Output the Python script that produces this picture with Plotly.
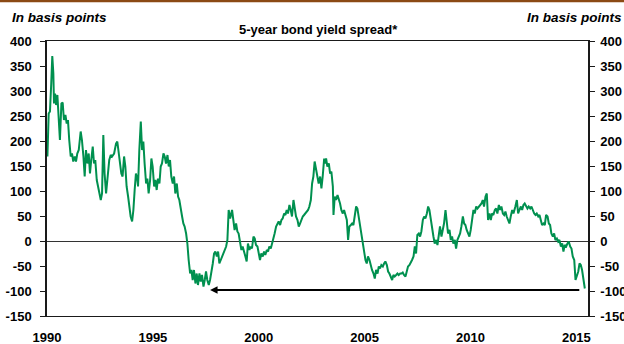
import plotly.graph_objects as go

# ---- Data: 5-year bond yield spread, basis points ----
years_a = [1990.00,1990.02,1990.08,1990.14,1990.20,1990.25,1990.30,1990.33,1990.38,1990.43,1990.49,1990.55,1990.61,1990.68,1990.74,1990.80,1990.87,1990.93,1990.99,
           1991.05,1991.12,1991.18,1991.24,1991.31,1991.37,1991.43,1991.50,1991.59,1991.65,1991.72,1991.78,1991.84,1991.91,1991.97,
           1992.03,1992.09,1992.16,1992.22,1992.28,1992.35,1992.41,1992.47,1992.54,1992.60,1992.66,1992.72,1992.79,1992.85,1992.94,
           1993.01,1993.07,1993.17,1993.26,1993.32,1993.39,1993.45,1993.51,1993.57,1993.64,1993.70,1993.76,1993.83,1993.89,1993.95,
           1994.02,1994.08,1994.14,1994.20,1994.27]
spread_a = [202,169,255,259,315,370,335,275,295,272,292,249,202,275,277,242,252,235,242,
            202,169,175,159,169,159,175,182,219,202,169,129,182,155,175,
            135,162,189,155,162,122,109,102,82,95,212,135,95,122,162,
            172,169,175,195,199,175,155,135,129,169,149,109,89,69,49,
            39,62,102,135,122]

years_b = [1994.30,1994.36,1994.43,1994.49,1994.55,1994.61,1994.68,1994.74,1994.80,1994.87,1994.93,1994.99,
           1995.06,1995.12,1995.18,1995.24,1995.31,1995.37,1995.43,1995.50,1995.56,1995.62,1995.69,1995.75,1995.81,1995.87,1995.94,
           1996.00,1996.06,1996.13,1996.19,1996.25,1996.31,1996.38,1996.44,1996.50,1996.57,1996.63,1996.69,1996.76,1996.82,1996.88,1996.94,
           1997.01,1997.07,1997.13,1997.20,1997.26,1997.32,1997.39,1997.45,1997.51,1997.57,1997.64,1997.70,1997.76,1997.83,1997.89,1997.95,
           1998.02,1998.08,1998.14,1998.20,1998.27,1998.33,1998.39,1998.46,1998.52,1998.58,1998.65,1998.71]
spread_b = [109,182,239,182,199,155,115,125,95,122,165,149,
            109,122,102,125,115,149,155,175,169,155,172,149,162,129,115,
            129,95,115,89,82,62,49,35,29,15,-5,-38,-65,-58,-78,-58,
            -85,-65,-88,-65,-81,-68,-91,-78,-61,-78,-88,-78,-65,-45,-25,-21,
            -31,-21,-45,-38,-31,-25,-18,-11,2,62,45,62]

years_c = [1998.74,1998.80,1998.86,1998.93,1998.99,
           1999.05,1999.12,1999.18,1999.24,1999.31,1999.37,1999.43,1999.49,1999.56,1999.62,1999.68,1999.75,1999.81,1999.87,1999.94,
           2000.00,2000.06,2000.12,2000.19,2000.25,2000.31,2000.38,2000.44,2000.50,2000.57,2000.63,2000.69,2000.75,2000.82,2000.88,2000.94,
           2001.01,2001.07,2001.13,2001.20,2001.26,2001.32,2001.38,2001.45,2001.51,2001.57,2001.64,2001.70,2001.76,2001.83,2001.89,2001.95,
           2002.01,2002.08,2002.14,2002.20,2002.27,2002.33,2002.39,2002.46,2002.52,2002.58,2002.64,2002.71,2002.77,2002.83,2002.90,2002.96,
           2003.02,2003.09,2003.15]
spread_c = [62,42,22,35,19,
            15,-5,-18,-11,-25,-31,-41,-5,-18,-11,-15,9,5,-8,-11,
            -25,-38,-25,-31,-21,-28,-18,-21,-11,-15,-5,9,15,29,35,39,
            32,42,45,55,52,62,55,72,62,49,82,62,49,42,29,35,
            42,49,52,55,59,62,69,82,115,129,159,142,129,115,129,105,
            129,165,155]

years_d = [2003.18,2003.24,2003.31,2003.37,2003.43,2003.50,2003.53,2003.59,2003.65,2003.72,2003.78,2003.84,2003.90,2003.97,
           2004.03,2004.09,2004.16,2004.22,2004.28,2004.35,2004.41,2004.47,2004.53,2004.60,2004.66,2004.72,2004.79,2004.85,2004.91,2004.98,
           2005.04,2005.10,2005.16,2005.23,2005.29,2005.35,2005.42,2005.48,2005.54,2005.61,2005.67,2005.73,2005.79,2005.86,2005.92,2005.98,
           2006.05,2006.11,2006.17,2006.23,2006.30,2006.36,2006.42,2006.49,2006.55,2006.61,2006.68,2006.74,2006.80,2006.86,2006.93,2006.99,
           2007.05,2007.12,2007.18,2007.24,2007.31,2007.37,2007.43,2007.49,2007.56]
spread_d = [165,149,155,135,139,109,52,89,82,92,85,75,62,55,
            62,52,42,2,29,32,35,32,49,69,65,49,22,9,-11,-25,
            -38,-45,-31,-38,-51,-58,-65,-75,-58,-65,-51,-55,-48,-51,-45,-41,
            -48,-61,-65,-71,-78,-68,-71,-68,-65,-68,-65,-65,-63,-68,-71,-61,
            -51,-48,-41,-38,-31,-11,-25,12,15]

years_e = [2007.62,2007.68,2007.75,2007.81,2007.87,2007.94,
           2008.00,2008.06,2008.12,2008.19,2008.25,2008.31,2008.38,2008.44,2008.50,2008.56,2008.63,2008.69,2008.75,2008.82,2008.88,2008.94,
           2009.01,2009.07,2009.13,2009.19,2009.26,2009.32,2009.38,2009.45,2009.51,2009.57,2009.64,2009.70,2009.76,2009.82,2009.89,2009.95,
           2010.01,2010.08,2010.14,2010.20,2010.27,2010.33,2010.39,2010.45,2010.52,2010.58,2010.64,2010.71,2010.77,2010.83,2010.90,2010.96,
           2011.02,2011.08,2011.15,2011.21,2011.27,2011.34,2011.40,2011.46,2011.53,2011.59,2011.65,2011.71,2011.78,2011.84,2011.90,2011.97,
           2012.03]
spread_e = [9,19,42,49,45,55,
            69,62,42,29,9,-5,2,-8,9,29,9,22,35,62,42,15,
            22,2,9,-5,2,-15,2,9,15,29,49,35,32,22,15,9,
            22,42,62,55,69,65,69,72,75,82,69,89,95,42,55,42,
            55,52,62,65,55,72,62,69,55,52,59,49,42,35,49,62,
            55]

years_f = [2012.06,2012.12,2012.19,2012.25,2012.31,2012.38,2012.44,2012.50,2012.56,2012.63,2012.69,2012.75,2012.82,2012.88,2012.94,
           2013.01,2013.07,2013.13,2013.20,2013.26,2013.32,2013.38,2013.45,2013.51,2013.57,2013.64,2013.70,2013.76,2013.82,2013.89,2013.95,
           2014.01,2014.08,2014.14,2014.20,2014.27,2014.33,2014.39,2014.45,2014.52,2014.58,2014.64,2014.71,2014.77,2014.83,2014.90,2014.96,
           2015.02,2015.09,2015.15,2015.21,2015.27,2015.34,2015.40]
spread_f = [62,69,82,55,62,69,62,72,75,69,65,69,65,69,62,
            55,52,55,49,52,42,32,35,32,52,49,35,32,15,9,15,
            2,5,-1,2,-11,-5,-21,-8,-11,-5,-1,-11,-15,-31,-38,-78,
            -71,-61,-45,-48,-58,-78,-95]

years = years_a + years_b + years_c + years_d + years_e + years_f
spread = spread_a + spread_b + spread_c + spread_d + spread_e + spread_f
assert len(years) == len(spread)

y_tick_values = [-150, -100, -50, 0, 50, 100, 150, 200, 250, 300, 350, 400]
y_tick_labels = ["-150", "-100", "-50", "0", "50", "100", "150", "200", "250", "300", "350", "400"]
x_tick_values = [1990, 1995, 2000, 2005, 2010, 2015]
x_tick_labels = ["1990", "1995", "2000", "2005", "2010", "2015"]

title_text = "5-year bond yield spread*"
unit_text = "In basis points"

# arrow annotation (from latest date back to the 1997 trough level)
arrow_tail_year = 2015.21
arrow_head_year = 1997.70
arrow_level = -98

FONT = "Liberation Sans, Arial, sans-serif"
GREEN = "#00904F"
AXIS = "#1a1a1a"

fig = go.Figure()
fig.add_trace(go.Scatter(x=years, y=spread, mode="lines",
                         line=dict(color=GREEN, width=2),
                         showlegend=False, hoverinfo="skip"))
fig.add_trace(go.Scatter(x=[years[0]], y=[spread[0]], mode="none", yaxis="y2",
                         showlegend=False, hoverinfo="skip"))

tickfont = dict(family=FONT, size=13, color="black", weight="bold")

fig.update_layout(
    width=624, height=344,
    margin=dict(l=47, r=36, t=41, b=28, autoexpand=False),
    paper_bgcolor="white", plot_bgcolor="white",
    font=dict(family=FONT),
    xaxis=dict(range=[1990, 2015.55], tickvals=x_tick_values, ticktext=x_tick_labels,
               ticks="", showline=True, mirror=True, linecolor=AXIS, linewidth=1.3,
               showgrid=False, zeroline=False, tickfont=tickfont,
               ticklabelstandoff=9, automargin=False),
    yaxis=dict(range=[-150, 400], tickvals=y_tick_values, ticktext=y_tick_labels,
               ticks="outside", ticklen=5, tickwidth=1.3, tickcolor=AXIS,
               showline=True, linecolor=AXIS, linewidth=1.5,
               showgrid=False, zeroline=True, zerolinecolor="#333333", zerolinewidth=1.2,
               tickfont=tickfont, ticklabelstandoff=6, automargin=False),
    yaxis2=dict(range=[-150, 400], tickvals=y_tick_values, ticktext=y_tick_labels,
                overlaying="y", side="right",
                ticks="outside", ticklen=5, tickwidth=1.3, tickcolor=AXIS,
                showline=True, linecolor=AXIS, linewidth=1.5,
                showgrid=False, zeroline=False,
                tickfont=tickfont, ticklabelstandoff=3, automargin=False),
)

fig.add_annotation(text="<b>" + title_text + "</b>", xref="paper", yref="paper",
                   x=0.502, y=1.04, xanchor="center", yanchor="middle", showarrow=False,
                   font=dict(family=FONT, size=13, color="black"))
fig.add_annotation(text="<b><i>" + unit_text + "</i></b>", xref="paper", yref="paper",
                   x=-0.068, y=1.085, xanchor="left", yanchor="middle", showarrow=False,
                   font=dict(family=FONT, size=13.5, color="black"))
fig.add_annotation(text="<b><i>" + unit_text + "</i></b>", xref="paper", yref="paper",
                   x=1.066, y=1.085, xanchor="right", yanchor="middle", showarrow=False,
                   font=dict(family=FONT, size=13.5, color="black"))
fig.add_annotation(x=arrow_head_year, y=arrow_level, xref="x", yref="y",
                   ax=arrow_tail_year, ay=arrow_level, axref="x", ayref="y",
                   text="", showarrow=True, arrowhead=2, arrowsize=0.75,
                   arrowwidth=2, arrowcolor="black")

# brown rule across the very top of the graphic
fig.add_shape(type="line", xref="paper", yref="paper", x0=-0.2, x1=1.2,
              y0=1.1455, y1=1.1455, line=dict(color="#8B4A14", width=2.5))

fig.write_html("out.html")
